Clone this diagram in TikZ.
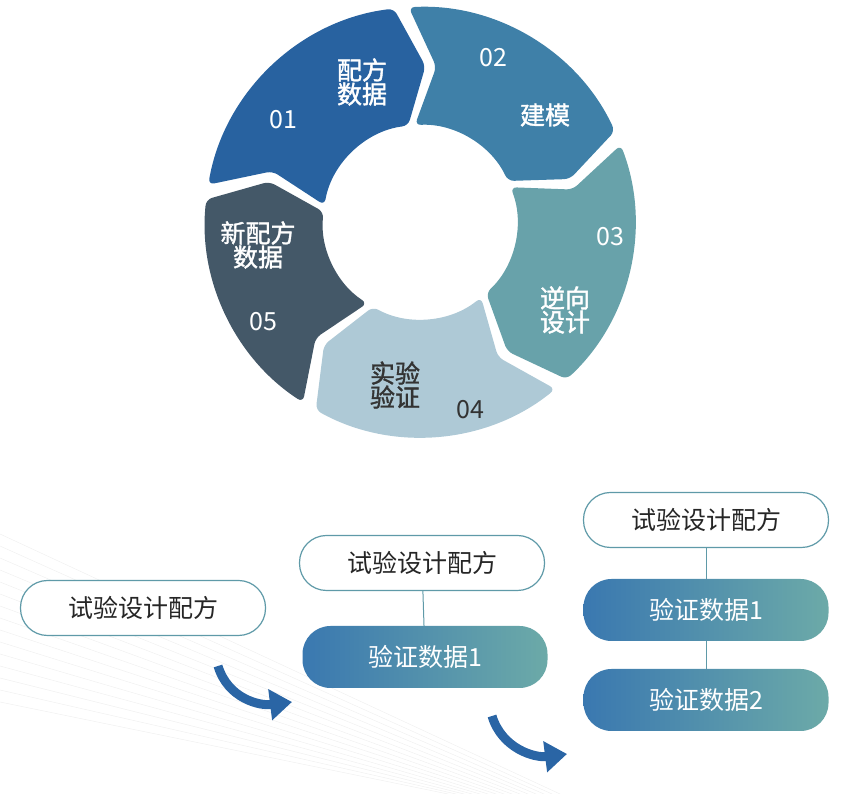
\documentclass[tikz,border=0pt]{standalone}
\usepackage{fontspec}
\setmainfont{Noto Sans CJK SC}
\newfontfamily\cjkb[FakeBold=1.5]{Noto Sans CJK SC}
\usetikzlibrary{arrows.meta}
\definecolor{cA}{HTML}{2862A0}
\definecolor{cB}{HTML}{3F80A8}
\definecolor{cC}{HTML}{68A2AA}
\definecolor{cD}{HTML}{AEC9D6}
\definecolor{cE}{HTML}{445868}
\definecolor{bord}{HTML}{5F9AA8}
\definecolor{gl}{HTML}{3A78B0}
\definecolor{gr}{HTML}{6CAAA8}
\definecolor{arr}{HTML}{2A65A5}
\begin{document}
\begin{tikzpicture}[x=1pt,y=1pt,
  lab/.style={font=\cjkb\fontsize{25}{30}\selectfont,align=center,text=white},
  num/.style={font=\fontsize{25}{30}\selectfont,text=white},
  pill/.style={draw=bord,line width=1.2pt,fill=white,rounded corners=27pt,minimum width=245pt,minimum height=55pt,font=\fontsize{25}{30}\selectfont,text=black!85},
  gbox/.style={rounded corners=28pt,minimum width=245pt,minimum height=62pt,left color=gl,right color=gr,font=\fontsize{25}{30}\selectfont,text=white},
  conn/.style={draw=bord,line width=1pt},
  bigarr/.style={draw=arr,line width=9pt,-{Triangle[length=22pt,width=30pt]}}]
\useasboundingbox (0,0) rectangle (861,794);
% light background lines
\foreach \i in {0,...,14}{
  \draw[gray!12,line width=0.5pt] (0,{260-\i*12}) -- ({560-\i*8},0);
}
% ring
\def\R{215}\def\r{97}\def\m{156}\def\d{9}
\begin{scope}[shift={(420,572)}]
\foreach \s/\e/\c in {170/97/cA, 93/25/cB, 21/-47/cC, -51/-119/cD, -123/-186/cE}{
  \fill[\c,rounded corners=6pt] (\s:\R) arc[start angle=\s,end angle=\e,radius=\R]
     -- (\e-\d:\m) -- (\e:\r) arc[start angle=\e,end angle=\s,radius=\r]
     -- (\s-\d:\m) -- cycle;
}
\end{scope}
\node[lab] (t1) at (362,712) {配方\\[-6pt]数据};
\node[num] (n1) at (283,674) {01};
\node[num] (n2) at (493,736) {02};
\node[lab] (t2) at (545,679) {建模};
\node[num] (n3) at (610,557) {03};
\node[lab] (t3) at (565,484) {逆向\\[-6pt]设计};
\node[lab,text=black!80] (t4) at (395,409) {实验\\[-6pt]验证};
\node[num,text=black!80] (n4) at (470,384) {04};
\node[lab] (t5) at (258,549) {新配方\\[-6pt]数据};
\node[num] (n5) at (263,472) {05};
% bottom
\node[pill] (p1) at (143,186) {试验设计配方};
\node[pill] (p2) at (422,231) {试验设计配方};
\node[gbox] (g21) at (425,137) {验证数据1};
\node[pill] (p3) at (706,274) {试验设计配方};
\node[gbox] (g31) at (706,184) {验证数据1};
\node[gbox] (g32) at (706,94) {验证数据2};
\draw[conn] (p2) -- (g21);
\draw[conn] (p3) -- (g31);
\draw[conn] (g31) -- (g32);
\coordinate (a1s) at (218,128); \coordinate (a1e) at (292,92);
\coordinate (a2s) at (492,78); \coordinate (a2e) at (567,40);
\draw[bigarr] (a1s) .. controls (228,95) and (260,88) .. (a1e);
\draw[bigarr] (a2s) .. controls (502,45) and (535,36) .. (a2e);
\end{tikzpicture}
\end{document}
